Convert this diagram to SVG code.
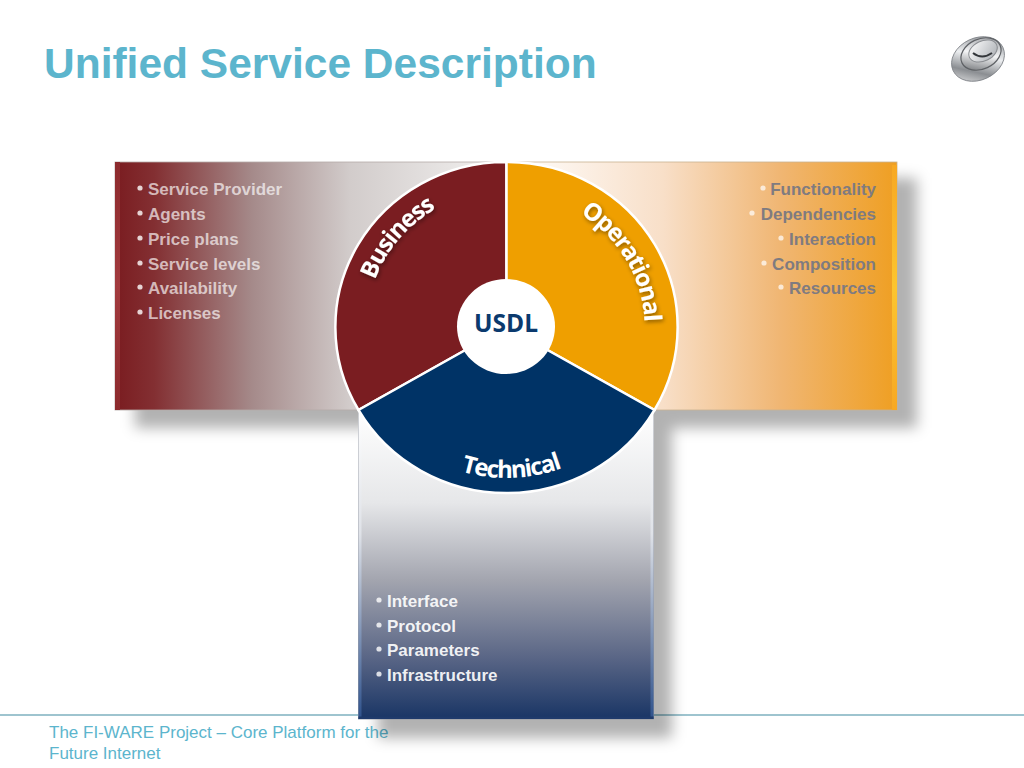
<svg xmlns="http://www.w3.org/2000/svg" xmlns:xlink="http://www.w3.org/1999/xlink" width="1024" height="768" viewBox="0 0 1024 768">
<style>
text{font-family:"Liberation Sans",Arial,sans-serif}
.title{font-size:42.5px;font-weight:700;fill:#5cb5cd}
.foot{font-size:17px;fill:#5cb5cd}
.li{font-size:17px;font-weight:700}
.wl{fill:#fff;fill-opacity:.66}
.wr{fill:#7f7b80;text-anchor:end}
.wb{fill:#fff;fill-opacity:.92}
.bul{fill:#fff;fill-opacity:.8}
.seg{stroke:#fff;stroke-width:2.5}
.lab{font-family:"Open Sans","Noto Sans",sans-serif;font-size:24px;font-weight:700;fill:#fff;letter-spacing:-1.3px}
</style>
<defs>
<linearGradient id="gl" x1="0" x2="1" y1="0" y2="0"><stop offset="0" stop-color="#7a1c20"/><stop offset=".1" stop-color="#832f32"/><stop offset=".35" stop-color="#a58a8a"/><stop offset=".6" stop-color="#d2cccb"/><stop offset="1" stop-color="#f4f3f2"/></linearGradient>
<linearGradient id="gr" x1="0" x2="1" y1="0" y2="0"><stop offset="0" stop-color="#fff"/><stop offset=".4" stop-color="#f8dfc8"/><stop offset=".7" stop-color="#f0b673"/><stop offset="1" stop-color="#ef9f22"/></linearGradient>
<linearGradient id="gb" x1="0" x2="0" y1="0" y2="1"><stop offset="0" stop-color="#fff"/><stop offset=".3" stop-color="#e6e7e9"/><stop offset=".55" stop-color="#a3a5af"/><stop offset=".8" stop-color="#5a6686"/><stop offset="1" stop-color="#193565"/></linearGradient>
<linearGradient id="gy" x1="0" x2="0" y1="0" y2="1"><stop offset="0" stop-color="#f7a823"/><stop offset=".5" stop-color="#fcc530"/><stop offset="1" stop-color="#f7a823"/></linearGradient>
<linearGradient id="gm" x1="0" x2="0" y1="0" y2="1"><stop offset="0" stop-color="#8c2a2d"/><stop offset=".5" stop-color="#a23b3e"/><stop offset="1" stop-color="#8c2a2d"/></linearGradient>
<linearGradient id="gs" x1="0" x2="0" y1="0" y2="1"><stop offset="0" stop-color="#fff"/><stop offset=".4" stop-color="#dfe2e8"/><stop offset="1" stop-color="#2f528c"/></linearGradient>
<linearGradient id="lg1" x1="0" y1="1" x2="1" y2="0"><stop offset="0" stop-color="#fafafa"/><stop offset=".3" stop-color="#8b8e92"/><stop offset=".55" stop-color="#eceef0"/><stop offset="1" stop-color="#6f7378"/></linearGradient>
<linearGradient id="lg2" x1="0" y1="1" x2="1" y2="0"><stop offset="0" stop-color="#55585c"/><stop offset=".5" stop-color="#f4f5f6"/><stop offset="1" stop-color="#8a8d92"/></linearGradient>
<linearGradient id="lg3" x1="0" y1="0" x2="1" y2="1"><stop offset="0" stop-color="#fff"/><stop offset="1" stop-color="#a9adb2"/></linearGradient>
<filter id="sh" x="-20%" y="-20%" width="140%" height="140%"><feGaussianBlur stdDeviation="7"/></filter>
<filter id="ts" x="-20%" y="-20%" width="140%" height="140%"><feDropShadow dx="1" dy="2" stdDeviation="2" flood-color="#000" flood-opacity=".45"/></filter>
<path id="pb" d="M366.500 327A140 137 0 0 1 646.500 327"/>
<path id="po" d="M368.500 327A138 134 0 0 1 644.500 327"/>
<path id="pt" d="M350.500 327A156 151 0 0 0 662.500 327"/>
</defs>

<g id="footer">
<line x1="0" y1="715" x2="1024" y2="715" stroke="#3f8a9f" stroke-width="1.2"/>
<text class="foot" x="49" y="738">The FI-WARE Project – Core Platform for the</text>
<text class="foot" x="49" y="759">Future Internet</text>
</g>
<text id="title" class="title" x="44" y="78">Unified Service Description</text>
<g id="logo">
<ellipse cx="978" cy="59" rx="27.500" ry="21" transform="rotate(-25 978 59)" fill="url(#lg1)" stroke="#7c7f84" stroke-width=".8"/>
<ellipse cx="981" cy="54" rx="21" ry="15" transform="rotate(-25 981 54)" fill="url(#lg2)" stroke="#5f6266" stroke-width="1.200"/>
<ellipse cx="983" cy="51" rx="15" ry="10" transform="rotate(-25 983 51)" fill="url(#lg3)" stroke="#8a8d91" stroke-width="1"/>
<path d="M973 53q9 7 19 0" fill="none" stroke="#33363a" stroke-width="2"/>
</g>

<g id="shadows" fill="#000" fill-opacity=".3" filter="url(#sh)">
<path d="M135 178H917V428H672V738H378V428H135Z"/>
</g>

<g id="panel-business">
<rect x="115" y="162" width="392" height="248" fill="url(#gl)" stroke="#b5aaa8" stroke-width=".8"/>
<rect x="115" y="162" width="5" height="248" fill="url(#gm)"/>
<g class="li">
<text class="wl" x="148" y="195">Service Provider</text>
<text class="wl" x="148" y="220">Agents</text>
<text class="wl" x="148" y="245">Price plans</text>
<text class="wl" x="148" y="270">Service levels</text>
<text class="wl" x="148" y="294">Availability</text>
<text class="wl" x="148" y="319">Licenses</text>
</g>
<g class="bul">
<circle cx="140" cy="188" r="2.6"/><circle cx="140" cy="213" r="2.6"/><circle cx="140" cy="238" r="2.6"/><circle cx="140" cy="263" r="2.6"/><circle cx="140" cy="287" r="2.6"/><circle cx="140" cy="312" r="2.6"/>
</g>
</g>

<g id="panel-operational">
<rect x="507" y="162" width="390" height="248" fill="url(#gr)" stroke="#c9b291" stroke-width=".8"/>
<rect x="892" y="165" width="5" height="245" fill="url(#gy)"/>
<g class="li">
<text class="wr" x="876" y="195">Functionality</text>
<text class="wr" x="876" y="220">Dependencies</text>
<text class="wr" x="876" y="245">Interaction</text>
<text class="wr" x="876" y="270">Composition</text>
<text class="wr" x="876" y="294">Resources</text>
</g>
<g fill="#fff" fill-opacity=".7">
<circle cx="763" cy="188" r="2.6"/><circle cx="752" cy="213" r="2.6"/><circle cx="781" cy="238" r="2.6"/><circle cx="764" cy="263" r="2.6"/><circle cx="781" cy="287" r="2.6"/>
</g>
</g>

<g id="panel-technical">
<rect x="358.500" y="410" width="295" height="309" fill="url(#gb)" stroke="#9094a0" stroke-width=".8"/>
<rect x="358.500" y="410" width="3" height="309" fill="url(#gs)"/>
<rect x="650.500" y="410" width="3" height="309" fill="url(#gs)"/>
<rect x="358.500" y="716.500" width="295" height="2.500" fill="#1f3a6b"/>
<g class="li">
<text class="wb" x="387" y="607">Interface</text>
<text class="wb" x="387" y="632">Protocol</text>
<text class="wb" x="387" y="656">Parameters</text>
<text class="wb" x="387" y="681">Infrastructure</text>
</g>
<g class="bul">
<circle cx="379" cy="600" r="2.6"/><circle cx="379" cy="625" r="2.6"/><circle cx="379" cy="649" r="2.6"/><circle cx="379" cy="674" r="2.6"/>
</g>
</g>

<g id="connectors"></g>

<g id="wheel">
<g id="seg-business"><path class="seg" fill="#7a1d21" d="M506.500 327V162A170.500 165 0 0 0 358.500 410Z"/></g>
<g id="seg-operational"><path class="seg" fill="#ef9f00" d="M506.500 327V162A170.500 165 0 0 1 654.500 410Z"/></g>
<g id="seg-technical"><path class="seg" fill="#003366" d="M506.500 327L358.500 410A170.500 165 0 0 0 654.500 410Z"/></g>
<g id="usdl">
<ellipse cx="506" cy="326.500" rx="49" ry="47.500" fill="#fff"/>
<text x="506" y="332" text-anchor="middle" style="font-family:'Open Sans','Noto Sans',sans-serif;font-size:24.500px;font-weight:700;fill:#0b3a6e">USDL</text>
</g>
<text class="lab" filter="url(#ts)"><textPath xlink:href="#pb" href="#pb" startOffset="48">Business</textPath></text>
<text class="lab" filter="url(#ts)"><textPath xlink:href="#po" href="#po" startOffset="291">Operational</textPath></text>
<text class="lab"><textPath xlink:href="#pt" href="#pt" startOffset="51%" text-anchor="middle">Technical</textPath></text>
</g>
</svg>
